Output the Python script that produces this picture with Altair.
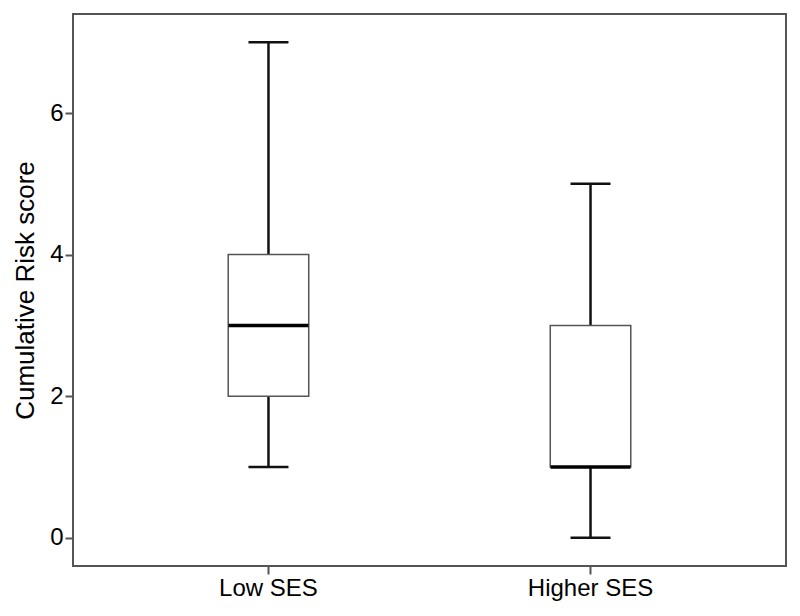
import altair as alt
import pandas as pd

groups = ["Low SES", "Higher SES"]
mins = [1, 0]
q1s = [2, 1]
medians = [3, 1]
q3s = [4, 3]
maxs = [7, 5]

df = pd.DataFrame({"group": groups, "lo": mins, "q1": q1s, "med": medians, "q3": q3s, "hi": maxs})

FONT = "Liberation Sans"

x = alt.X("group:N", sort=groups, title=None,
          scale=alt.Scale(paddingInner=0.75, paddingOuter=0.482),
          axis=alt.Axis(labelAngle=0, labelFontSize=24, labelFont=FONT, labelColor="#000",
                        tickSize=8, tickWidth=2, tickColor="#555", domain=False, labelPadding=2))
yscale = alt.Scale(domain=[-0.4, 7.4], nice=False, zero=False)
y = alt.Y("lo:Q", scale=yscale, title="Cumulative Risk score",
          axis=alt.Axis(values=[0, 2, 4, 6], format="d", labelFontSize=24, labelFont=FONT, labelColor="#000",
                        titleFontSize=26, titleFont=FONT, titleFontWeight="normal", titleColor="#000",
                        tickSize=8, tickWidth=2, tickColor="#555", domain=False, grid=False,
                        labelPadding=2, titlePadding=11))

base = alt.Chart(df)

whisk_lo = base.mark_rule(color="#111", strokeWidth=2.5).encode(x=x, y=y, y2="q1:Q")
whisk_hi = base.mark_rule(color="#111", strokeWidth=2.5).encode(x=x, y=alt.Y("q3:Q", scale=yscale), y2="hi:Q")
cap_lo = base.mark_tick(color="#111", size=40, thickness=2.5, opacity=1).encode(x=x, y=alt.Y("lo:Q", scale=yscale))
cap_hi = base.mark_tick(color="#111", size=40, thickness=2.5, opacity=1).encode(x=x, y=alt.Y("hi:Q", scale=yscale))
box = base.mark_bar(fill="white", stroke="#555", strokeWidth=1.5, opacity=1).encode(
    x=x, y=alt.Y("q1:Q", scale=yscale), y2="q3:Q")
med = base.mark_tick(color="#000", size=80, thickness=3.5, opacity=1).encode(x=x, y=alt.Y("med:Q", scale=yscale))

chart = alt.layer(whisk_lo, whisk_hi, cap_lo, cap_hi, box, med).properties(
    width=713, height=552, autosize="none",
    padding={"left": 65, "top": 6, "right": 5, "bottom": 40}
).configure(background="white").configure_view(stroke="#555", strokeWidth=2)

chart.save("out.html", embed_options={"renderer": "svg", "actions": False})
